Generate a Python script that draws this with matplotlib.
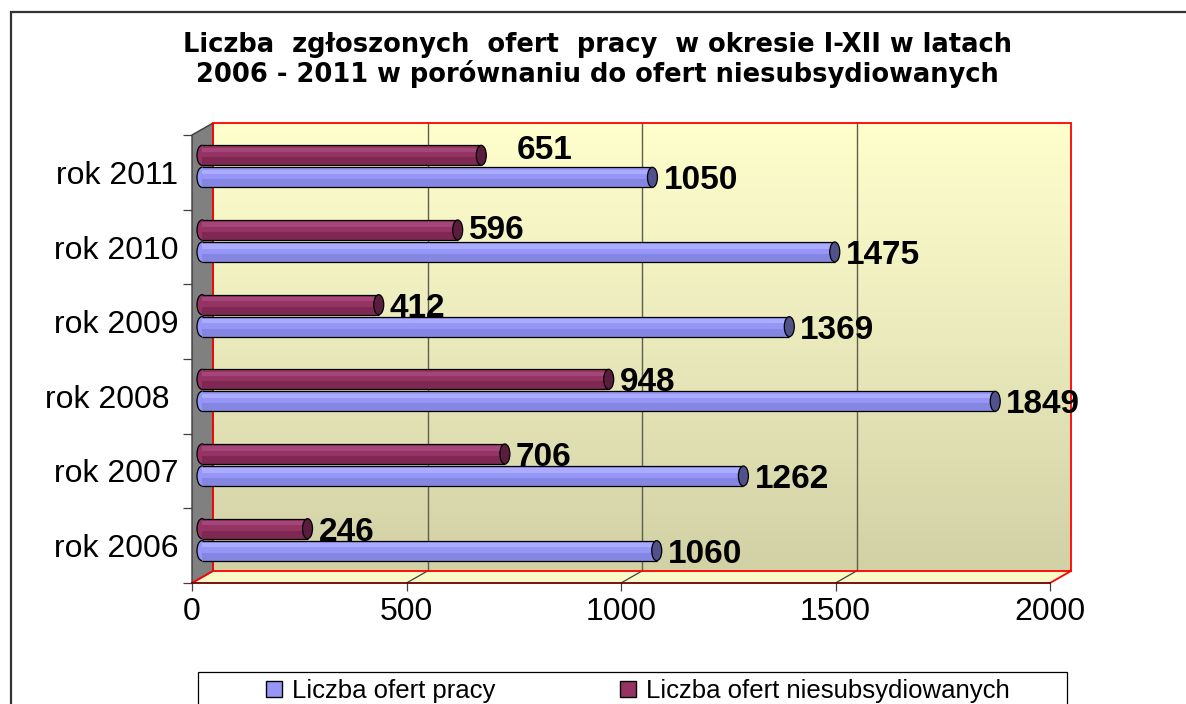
import numpy as np
import matplotlib
matplotlib.use("Agg")
import matplotlib.pyplot as plt
from matplotlib.patches import Polygon, Rectangle, Ellipse
from matplotlib.transforms import ScaledTranslation
from matplotlib.colors import LinearSegmentedColormap

# ---------------- data ----------------
categories = ["rok 2006", "rok 2007", "rok 2008", "rok 2009", "rok 2010", "rok 2011"]
oferty_pracy = [1060, 1262, 1849, 1369, 1475, 1050]
oferty_niesubs = [246, 706, 948, 412, 596, 651]
series_names = ["Liczba ofert pracy", "Liczba ofert niesubsydiowanych"]
x_ticks = [0, 500, 1000, 1500, 2000]
title = ("Liczba  zgłoszonych  ofert  pracy  w okresie I-XII w latach\n"
         "2006 - 2011 w porównaniu do ofert niesubsydiowanych")

# ---------------- style ----------------
plt.rcParams['font.family'] = ['Liberation Sans', 'DejaVu Sans']
DPI = 100
FW, FH = 1186, 704
BLUE = dict(base="#9696F6", hi="#ABABFF", lo="#8585E2", cap="#51518C")
MAROON = dict(base="#953463", hi="#A5467A", lo="#7E2853", cap="#5A1D3D")

fig = plt.figure(figsize=(FW / DPI, FH / DPI), dpi=DPI)
# front plane of the 3D box (pixels): x 192..1050, y 135..583
ax = fig.add_axes([192 / FW, (FH - 583) / FH, 858 / FW, 448 / FH])
XMAX, NCAT = 2000, len(categories)
px_x = 858 / XMAX          # pixels per data unit (x)
px_y = 448 / NCAT          # pixels per category
DXD = 21 / px_x            # depth in data units
DYD = 12 / px_y

# back wall with gradient
grad = np.linspace(0, 1, 256).reshape(-1, 1)
wall_cmap = LinearSegmentedColormap.from_list("wall", ["#D1D1A5", "#E9E9BC", "#FFFFCD"])
ax.imshow(grad, extent=(DXD, XMAX + DXD, DYD, NCAT + DYD), origin="lower",
          cmap=wall_cmap, aspect="auto", zorder=0, clip_on=False, interpolation="bilinear")

# gridlines on back wall
for v in x_ticks[1:-1]:
    ax.plot([v + DXD, v + DXD], [DYD, NCAT + DYD], color="#5E5E4C", lw=1.0, zorder=1, clip_on=False)

# floor
floor = Polygon([(0, 0), (XMAX, 0), (XMAX + DXD, DYD), (DXD, DYD)], closed=True,
                fc="#FAFAC8", ec="none", zorder=1.5, clip_on=False)
ax.add_patch(floor)
for v in x_ticks[1:-1]:
    ax.plot([v, v + DXD], [0, DYD], color="#404040", lw=0.9, zorder=1.6, clip_on=False)
ax.plot([0, DXD], [0, DYD], color="red", lw=1.3, zorder=2.5, clip_on=False)
ax.plot([XMAX, XMAX + DXD], [0, DYD], color="red", lw=1.3, zorder=2.5, clip_on=False)
ax.plot([0, XMAX], [0, 0], color="#6E0000", lw=1.3, zorder=2.5, clip_on=False)

# left wall
lw_poly = Polygon([(0, 0), (0, NCAT), (DXD, NCAT + DYD), (DXD, DYD)], closed=True,
                  fc="#808080", ec="#3C3C3C", lw=1.0, zorder=2, clip_on=False)
ax.add_patch(lw_poly)

# red frame of back wall
ax.add_patch(Rectangle((DXD, DYD), XMAX, NCAT, fill=False, ec="red", lw=1.3,
                       zorder=2.2, clip_on=False))

ax.set_xlim(0, XMAX)
ax.set_ylim(0, NCAT)
for s in ax.spines.values():
    s.set_visible(False)
ax.patch.set_visible(False)

# ---------------- bars ----------------
trans_bar = ax.transData + ScaledTranslation(10 / DPI, 6 / DPI, fig.dpi_scale_trans)
trans_lab = trans_bar + ScaledTranslation(11 / DPI, -12 / DPI, fig.dpi_scale_trans)
BAR_H = 20 / px_y
GAP = 2 / px_y
CAP_W = 10 / px_x
ypos = np.arange(NCAT) + 0.5
label_nudge = {(1, 5): (24, 8), (1, 4): (0, 3)}   # (series, category) -> extra pixel shift

handles = []
for si, (vals, col, off) in enumerate([(oferty_pracy, BLUE, -(BAR_H + GAP) / 2),
                                       (oferty_niesubs, MAROON, (BAR_H + GAP) / 2)]):
    y = ypos + off
    vals = np.asarray(vals)
    for yi, vi in zip(y, vals):
        ax.add_patch(Ellipse((0, yi), CAP_W, BAR_H, fc=col["base"], ec="black", lw=0.9,
                             transform=trans_bar, zorder=3, clip_on=False))
    ax.barh(y, vals, height=BAR_H, color=col["base"], edgecolor="none",
            transform=trans_bar, zorder=3.1, clip_on=False)
    ax.barh(y - BAR_H * 0.3, vals, height=BAR_H * 0.4, color=col["lo"], edgecolor="none",
            transform=trans_bar, zorder=3.2, clip_on=False)
    ax.barh(y + BAR_H * 0.27, vals, height=BAR_H * 0.22, color=col["hi"], edgecolor="none",
            transform=trans_bar, zorder=3.2, clip_on=False)
    ax.hlines(np.concatenate([y + BAR_H / 2, y - BAR_H / 2]), 0, np.concatenate([vals, vals]),
              colors="black", lw=0.9, transform=trans_bar, zorder=3.3, clip_on=False)
    for ci, (yi, vi) in enumerate(zip(y, vals)):
        ax.add_patch(Ellipse((vi, yi), CAP_W, BAR_H, fc=col["cap"], ec="black", lw=0.9,
                             transform=trans_bar, zorder=3.4, clip_on=False))
        nx, ny = label_nudge.get((si, ci), (0, 0))
        t = trans_lab + ScaledTranslation(nx / DPI, ny / DPI, fig.dpi_scale_trans)
        ax.text(vi, yi, f"{vi}", transform=t, ha="left", va="baseline",
                fontsize=24, fontweight="bold", color="black", zorder=5, clip_on=False)
    handles.append(Rectangle((0, 0), 1, 1, fc=col["base"], ec="black", lw=1.0))

# ---------------- axes ticks ----------------
ax.set_xticks(x_ticks)
ax.set_xticklabels([str(v) for v in x_ticks])
ax.set_yticks(ypos)
ax.set_yticks(np.arange(NCAT + 1), minor=True)
ax.set_yticklabels(categories)
ax.tick_params(axis="x", which="major", length=5.8, width=0.9, color="#404040",
               direction="out", pad=4.5, labelsize=23)
ax.tick_params(axis="y", which="major", length=0, pad=10, labelsize=23)
ax.tick_params(axis="y", which="minor", length=6.5, width=0.9, color="#404040", direction="out")
lab = ax.get_yticklabels()[2]
lab.set_transform(lab.get_transform() + ScaledTranslation(-9 / DPI, 0, fig.dpi_scale_trans))

# ---------------- title ----------------
fig.text(597 / FW, 1 - 60 / FH, title, ha="center", va="center", fontsize=18.5,
         fontweight="bold", family="DejaVu Sans", linespacing=1.05)

# ---------------- legend ----------------
fig.add_artist(Rectangle((198 / FW, -0.1), 869 / FW, (FH - 672) / FH + 0.1,
                         transform=fig.transFigure, fill=False, ec="black", lw=0.9))
fig.legend(handles, series_names, loc="center", bbox_to_anchor=(638 / FW, 1 - 691 / FH),
           ncol=2, frameon=False, fontsize=18.5, handlelength=0.62, handleheight=0.62,
           handletextpad=0.4, columnspacing=4.86, borderpad=0, borderaxespad=0)

# ---------------- outer chart border ----------------
fig.add_artist(Rectangle((11 / FW, -0.1), 1.2, (FH - 12) / FH + 0.1,
                         transform=fig.transFigure, fill=False, ec="#333333", lw=1.6))

fig.savefig("out.png", dpi=DPI)
